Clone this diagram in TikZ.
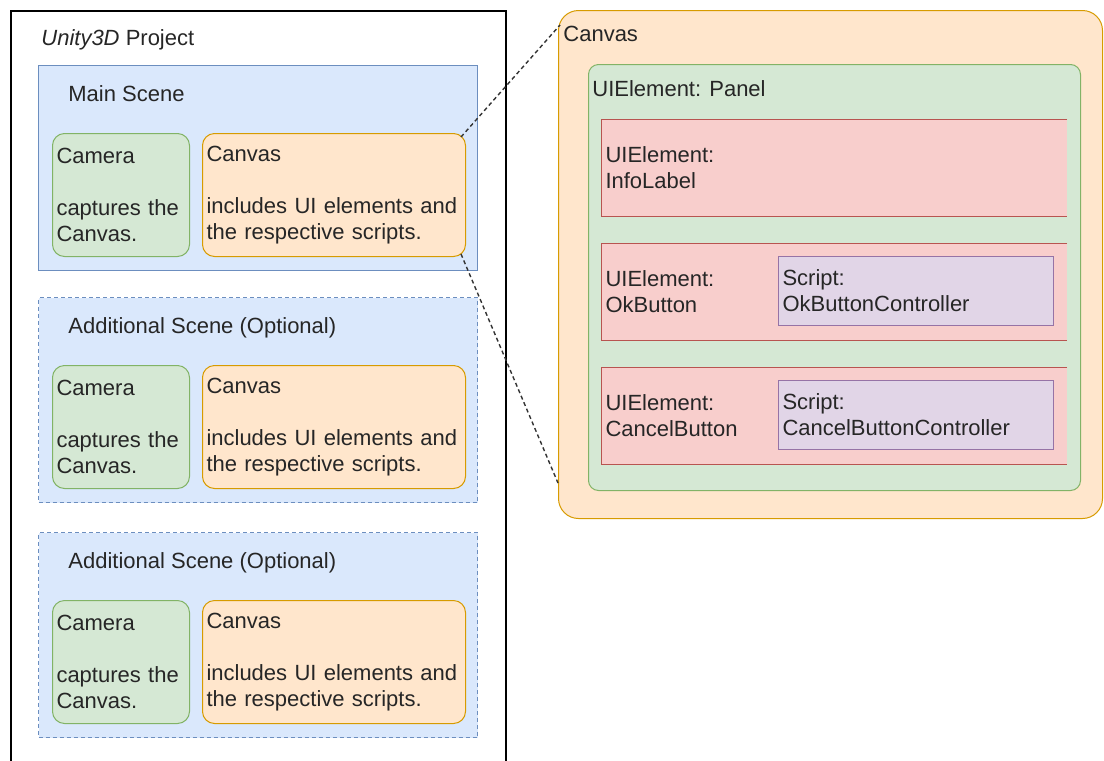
\documentclass[tikz,border=0pt]{standalone}
\usepackage{fontspec}
\setmainfont{Liberation Sans}
\usetikzlibrary{calc}

\definecolor{bluefill}{HTML}{DAE8FC}
\definecolor{blueline}{HTML}{6C8EBF}
\definecolor{greenfill}{HTML}{D5E8D4}
\definecolor{greenline}{HTML}{82B366}
\definecolor{orangefill}{HTML}{FFE6CC}
\definecolor{orangeline}{HTML}{D79B00}
\definecolor{redfill}{HTML}{F8CECC}
\definecolor{redline}{HTML}{B85450}
\definecolor{purplefill}{HTML}{E1D5E7}
\definecolor{purpleline}{HTML}{9673A6}

\begin{document}
\begin{tikzpicture}[x=0.5pt,y=-0.5pt,
  font=\fontsize{11}{13}\selectfont, text=black!85,
  box/.style={anchor=north west, inner xsep=2pt, inner ysep=0pt, align=left, line width=0.5pt},
  scene/.style={box, fill=bluefill, draw=blueline, minimum width=219.5pt, minimum height=102.5pt},
  optional/.style={dash pattern=on 2pt off 1.5pt},
  cam/.style={box, rounded corners=6pt, fill=greenfill, draw=greenline,
    minimum width=68.5pt, minimum height=61.5pt, text width=64.5pt},
  canv/.style={box, rounded corners=6pt, fill=orangefill, draw=orangeline,
    minimum width=131.5pt, minimum height=61.5pt, text width=127.5pt},
  elem/.style={box, fill=redfill, minimum width=232.5pt, minimum height=48pt, text width=228.5pt},
  script/.style={box, fill=purplefill, draw=purpleline, minimum width=137.5pt, minimum height=34.5pt, text width=133.5pt},
  title/.style={anchor=base west, inner sep=0pt},
  link/.style={dash pattern=on 2pt off 1.5pt, line width=0.7pt, black!80}]
\useasboundingbox (0,0) rectangle (1104,761);
\clip (0,0) rectangle (1104,761);

% project with its scenes
\node[draw, line width=0.9pt, anchor=north west, inner sep=0pt,
  minimum width=247.5pt, minimum height=400pt] (project) at (10,10) {};
\node[title] (projectT) at (41,45) {\textit{Unity3D} Project};
\foreach \y/\ttl/\s [count=\i] in {65/Main Scene/solid,
    297/{Additional Scene (Optional)}/optional, 532/{Additional Scene (Optional)}/optional}
  {\node[scene, \s] (scene\i) at (38,\y) {};
   \node[title] (sceneT\i) at (68,{\y+36}) {\ttl};
   \node[cam] (cam\i) at (52,{\y+68}) {Camera\\[13pt]captures the\\Canvas.};
   \node[canv] (canv\i) at (202,{\y+68}) {Canvas\\[13pt]includes UI elements and\\the respective scripts.};}

% canvas in detail
\node[box, rounded corners=10pt, fill=orangefill, draw=orangeline,
  minimum width=272pt, minimum height=254pt] (bigcanv) at (558,10) {};
\node[title] (bigcanvT) at (563,41) {Canvas};
\node[box, rounded corners=5pt, fill=greenfill, draw=greenline,
  minimum width=246pt, minimum height=213pt] (panel) at (588,64) {};
\node[title] (panelT) at (592,96) {UIElement: Panel};
\foreach \y/\n [count=\i] in {119/InfoLabel, 243/OkButton, 367/CancelButton}
  {\node[elem] (elem\i) at (601,\y) {UIElement:\\\n};
   \draw[redline, line width=0.5pt] (elem\i.north east) -- (elem\i.north west)
     -- (elem\i.south west) -- (elem\i.south east);}
\foreach \n [count=\i from 2] in {OkButtonController, CancelButtonController}
  \node[script] (script\i) at ($(elem\i.north west)+(177,13)$) {Script:\\\n};

\draw[link] ($(canv1.north east)+(-5,4)$) -- ($(bigcanv.north west)+(2,15)$);
\draw[link] ($(canv1.south east)+(-5,-3)$) -- ($(bigcanv.south west)+(0,-36)$);
\end{tikzpicture}
\end{document}
